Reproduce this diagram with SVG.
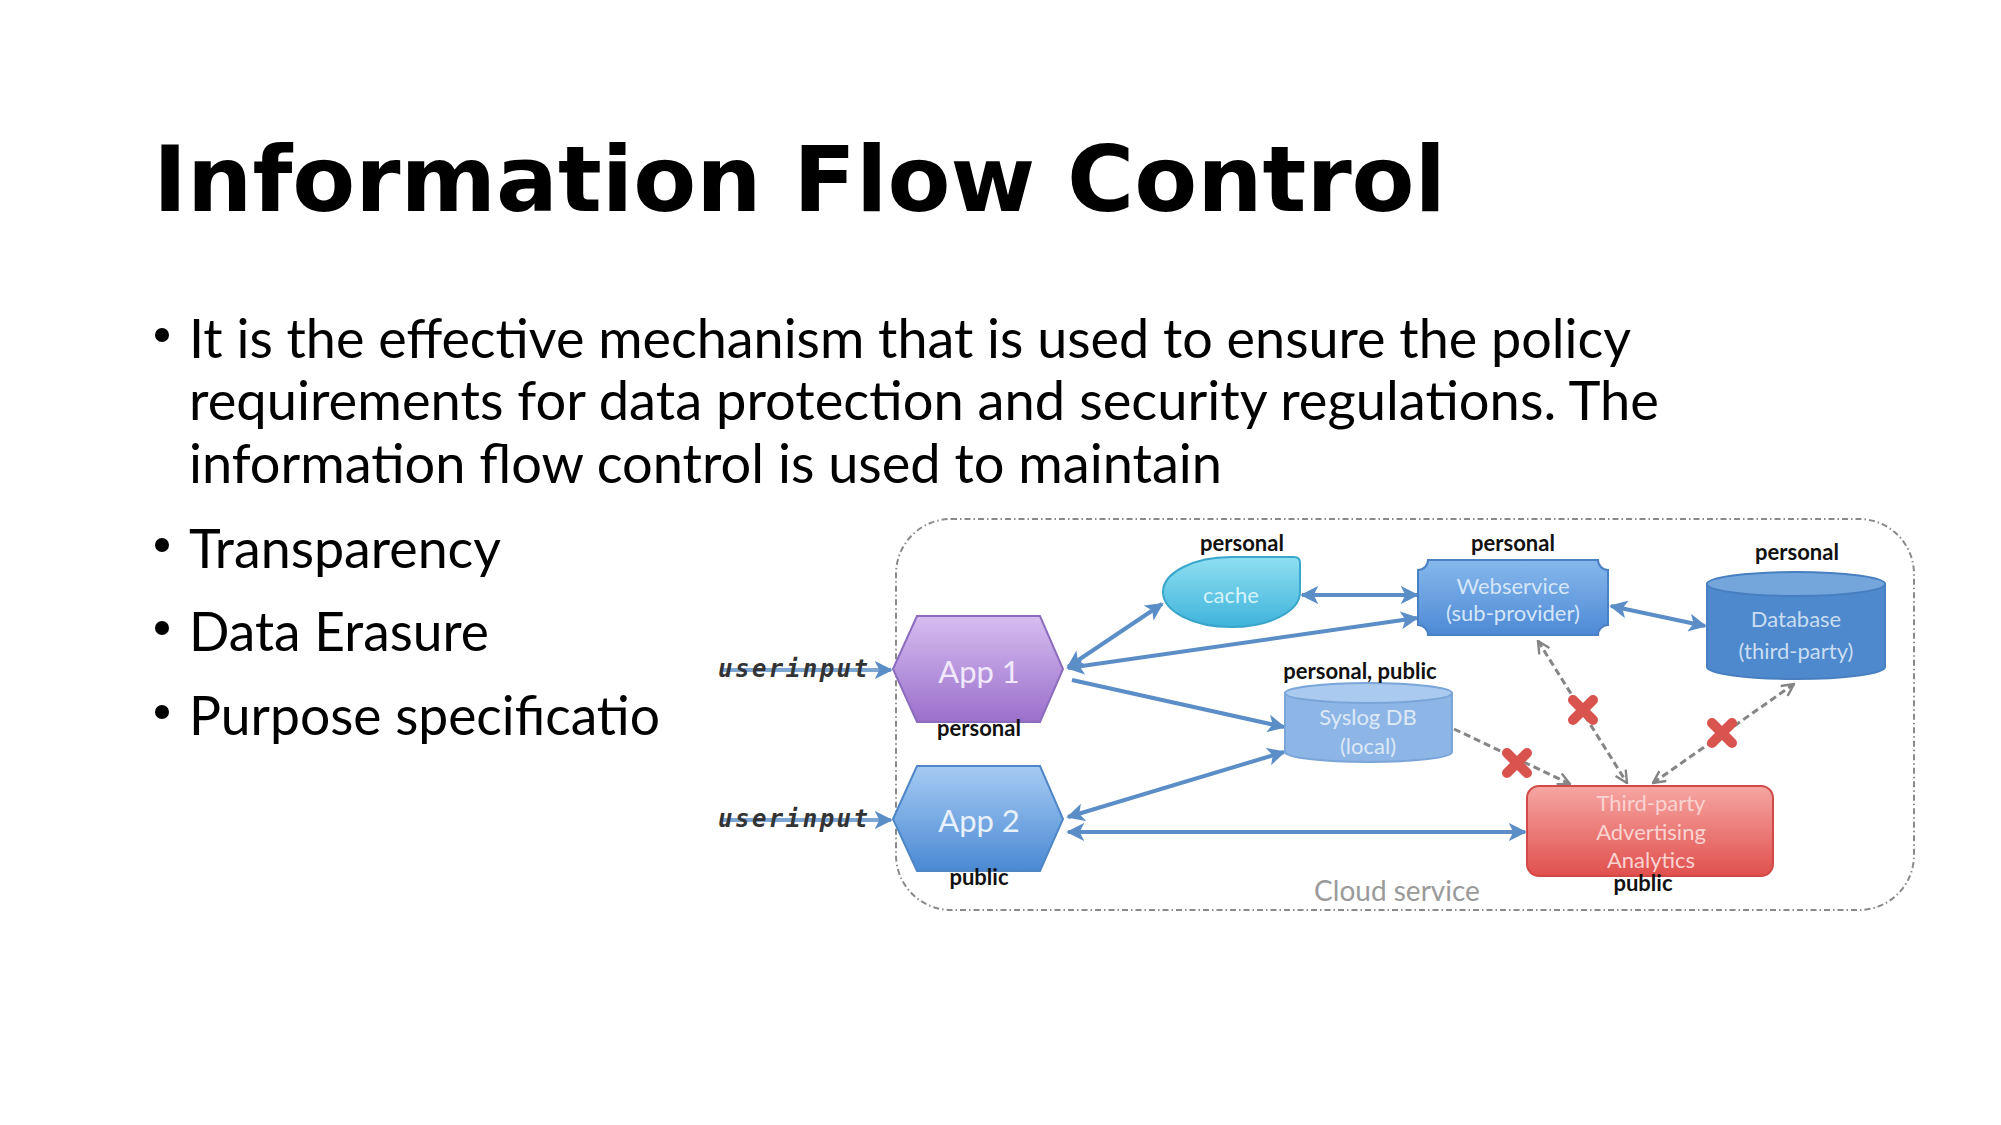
<svg xmlns="http://www.w3.org/2000/svg" width="2001" height="1125" viewBox="0 0 2001 1125">
<defs>
<style>
.title{font-family:"DejaVu Sans",sans-serif;font-weight:bold;font-size:91.7px;fill:#000}
.body{font-family:Lato,"Liberation Sans",sans-serif;font-size:55px;fill:#000}
.lbl{font-family:Lato,"Liberation Sans",sans-serif;font-weight:bold;font-size:22px;fill:#111;text-anchor:middle}
.in{font-family:Lato,"Liberation Sans",sans-serif;font-size:22px;text-anchor:middle}
.ui{font-family:"DejaVu Sans Mono",monospace;font-weight:bold;font-style:italic;font-size:24px;fill:#333}
.conn{fill:none;stroke:#5b8ec6;stroke-width:4;marker-end:url(#ah)}
.dbl{marker-start:url(#ah)}
.dash{fill:none;stroke:#858585;stroke-width:3;stroke-dasharray:7 4;marker-end:url(#gh)}
.dashdbl{marker-start:url(#gh)}
.xm{fill:none;stroke:#d9534f;stroke-width:10;stroke-linecap:round}
</style>
<marker id="ah" viewBox="0 0 10 10" refX="9" refY="5" markerWidth="4.5" markerHeight="4.5" orient="auto-start-reverse" markerUnits="strokeWidth"><path d="M0,0 L10,5 L0,10 L2.5,5 Z" fill="#5b8ec6"/></marker>
<marker id="gh" viewBox="0 0 10 10" refX="9" refY="5" markerWidth="5" markerHeight="5" orient="auto-start-reverse" markerUnits="strokeWidth"><path d="M1,1 L9,5 L1,9" fill="none" stroke="#858585" stroke-width="1.6"/></marker>
<linearGradient id="gApp1" x1="0" y1="0" x2="0" y2="1"><stop offset="0" stop-color="#d6bdf0"/><stop offset="1" stop-color="#9a6fcb"/></linearGradient>
<linearGradient id="gApp2" x1="0" y1="0" x2="0" y2="1"><stop offset="0" stop-color="#a6cbf3"/><stop offset="1" stop-color="#4a89d3"/></linearGradient>
<linearGradient id="gCache" x1="0" y1="0" x2="0" y2="1"><stop offset="0" stop-color="#8fdff2"/><stop offset="1" stop-color="#3fb3da"/></linearGradient>
<linearGradient id="gWeb" x1="0" y1="0" x2="0" y2="1"><stop offset="0" stop-color="#86b8ec"/><stop offset="1" stop-color="#4d89d5"/></linearGradient>
<linearGradient id="gRed" x1="0" y1="0" x2="0" y2="1"><stop offset="0" stop-color="#f6a6a3"/><stop offset="1" stop-color="#e0504d"/></linearGradient>
</defs>
<rect width="2001" height="1125" fill="#fff"/>

<g id="title"><text class="title" x="153" y="211">Information Flow Control</text></g>

<g id="bullets">
<circle cx="162" cy="335" r="7"/>
<text class="body" x="189" y="358" textLength="1442" lengthAdjust="spacingAndGlyphs">It is the effective mechanism that is used to ensure the policy</text>
<text class="body" x="189" y="420" textLength="1470" lengthAdjust="spacingAndGlyphs">requirements for data protection and security regulations. The</text>
<text class="body" x="189" y="483" textLength="1033" lengthAdjust="spacingAndGlyphs">information flow control is used to maintain</text>
<circle cx="162" cy="545" r="7"/>
<text class="body" x="189" y="568" textLength="312" lengthAdjust="spacingAndGlyphs">Transparency</text>
<circle cx="162" cy="628" r="7"/>
<text class="body" x="189" y="651" textLength="300" lengthAdjust="spacingAndGlyphs">Data Erasure</text>
<circle cx="162" cy="712" r="7"/>
<text class="body" x="189" y="735" textLength="471" lengthAdjust="spacingAndGlyphs">Purpose specificatio</text>
</g>

<g id="cloud-service">
<rect x="896" y="519" width="1018" height="391" rx="55" ry="55" fill="none" stroke="#8a8a8a" stroke-width="2" stroke-dasharray="6 3 1.5 3"/>
<text x="1397" y="901" font-family="Lato,'Liberation Sans',sans-serif" font-size="28" fill="#9a9a9a" text-anchor="middle">Cloud service</text>
</g>

<g id="connectors">
<path class="conn" d="M720,670 L891,670" style="stroke:#7ea6d2"/>
<path class="conn" d="M720,820 L891,820" style="stroke:#7ea6d2"/>
<path class="conn dbl" d="M1068,667 L1162,604"/>
<path class="conn dbl" d="M1302,595 L1417,595"/>
<path class="conn dbl" d="M1068,668 L1417,618"/>
<path class="conn" d="M1072,680 L1284,727"/>
<path class="conn dbl" d="M1068,817 L1284,752"/>
<path class="conn dbl" d="M1068,832 L1525,832"/>
<path class="conn dbl" d="M1611,606 L1705,626"/>
<path class="dash" d="M1454,729 L1570,784"/>
<path class="dash dashdbl" d="M1538,641 L1627,783"/>
<path class="dash dashdbl" d="M1794,684 L1653,783"/>
<g id="blocks">
<path class="xm" d="M1507,753 L1527,773 M1527,753 L1507,773"/>
<path class="xm" d="M1573,700 L1593,720 M1593,700 L1573,720"/>
<path class="xm" d="M1712,723 L1732,743 M1732,723 L1712,743"/>
</g>
</g>

<g id="userinput1"><text class="ui" x="718" y="677" textLength="150" lengthAdjust="spacing">userinput</text></g>
<g id="userinput2"><text class="ui" x="718" y="827" textLength="150" lengthAdjust="spacing">userinput</text></g>

<g id="app1">
<polygon points="893,669 917,616 1040,616 1063,669 1040,722 917,722" fill="url(#gApp1)" stroke="#8c6cbd" stroke-width="2"/>
<text x="979" y="683" font-family="Lato,'Liberation Sans',sans-serif" font-size="31" fill="#f1e8fb" text-anchor="middle">App 1</text>
<text class="lbl" x="979" y="736">personal</text>
</g>

<g id="app2">
<polygon points="893,819 917,766 1040,766 1063,819 1040,871 917,871" fill="url(#gApp2)" stroke="#4f86c6" stroke-width="2"/>
<text x="979" y="832" font-family="Lato,'Liberation Sans',sans-serif" font-size="31" fill="#e8f1fc" text-anchor="middle">App 2</text>
<text class="lbl" x="979" y="885">public</text>
</g>

<g id="cache">
<path d="M1163,592 A68,35 0 0 1 1231,557 L1294,557 Q1300,557 1300,563 L1300,592 A68,35 0 0 1 1231,627 A68,35 0 0 1 1163,592 Z" fill="url(#gCache)" stroke="#3aa6cc" stroke-width="2"/>
<text class="in" x="1231" y="603" fill="#d6f3fb">cache</text>
<text class="lbl" x="1242" y="551">personal</text>
</g>

<g id="webservice">
<path d="M1428,560 L1598,560 A10,10 0 0 0 1608,570 L1608,625 A10,10 0 0 0 1598,635 L1428,635 A10,10 0 0 0 1418,625 L1418,570 A10,10 0 0 0 1428,560 Z" fill="url(#gWeb)" stroke="#4a80c4" stroke-width="2"/>
<text class="in" x="1513" y="594" fill="#d5e6f9">Webservice</text>
<text class="in" x="1513" y="621" fill="#d5e6f9">(sub-provider)</text>
<text class="lbl" x="1513" y="551">personal</text>
</g>

<g id="database">
<path d="M1707,584 L1707,667 A89,12 0 0 0 1885,667 L1885,584 Z" fill="#4d89cc" stroke="#477fc0" stroke-width="2"/>
<ellipse cx="1796" cy="584" rx="89" ry="12" fill="#74a6dc" stroke="#477fc0" stroke-width="2"/>
<text class="in" x="1796" y="627" fill="#c9ddf3">Database</text>
<text class="in" x="1796" y="659" fill="#c9ddf3">(third-party)</text>
<text class="lbl" x="1797" y="560">personal</text>
</g>

<g id="syslog">
<path d="M1285,693 L1285,752 A83.5,10 0 0 0 1452,752 L1452,693 Z" fill="#8db6e6" stroke="#7aa5d8" stroke-width="2"/>
<ellipse cx="1368.5" cy="693" rx="83.5" ry="10" fill="#aacbef" stroke="#7aa5d8" stroke-width="2"/>
<text class="in" x="1368" y="725" fill="#dde9f7">Syslog DB</text>
<text class="in" x="1368" y="754" fill="#dde9f7">(local)</text>
<text class="lbl" x="1360" y="679">personal, public</text>
</g>

<g id="thirdparty">
<rect x="1527" y="786" width="246" height="90" rx="12" ry="12" fill="url(#gRed)" stroke="#d24a48" stroke-width="2"/>
<text class="in" x="1651" y="811" fill="#fbd3d1">Third-party</text>
<text class="in" x="1651" y="840" fill="#fbd3d1">Advertising</text>
<text class="in" x="1651" y="868" fill="#fbd3d1">Analytics</text>
<text class="lbl" x="1643" y="891">public</text>
</g>
</svg>
